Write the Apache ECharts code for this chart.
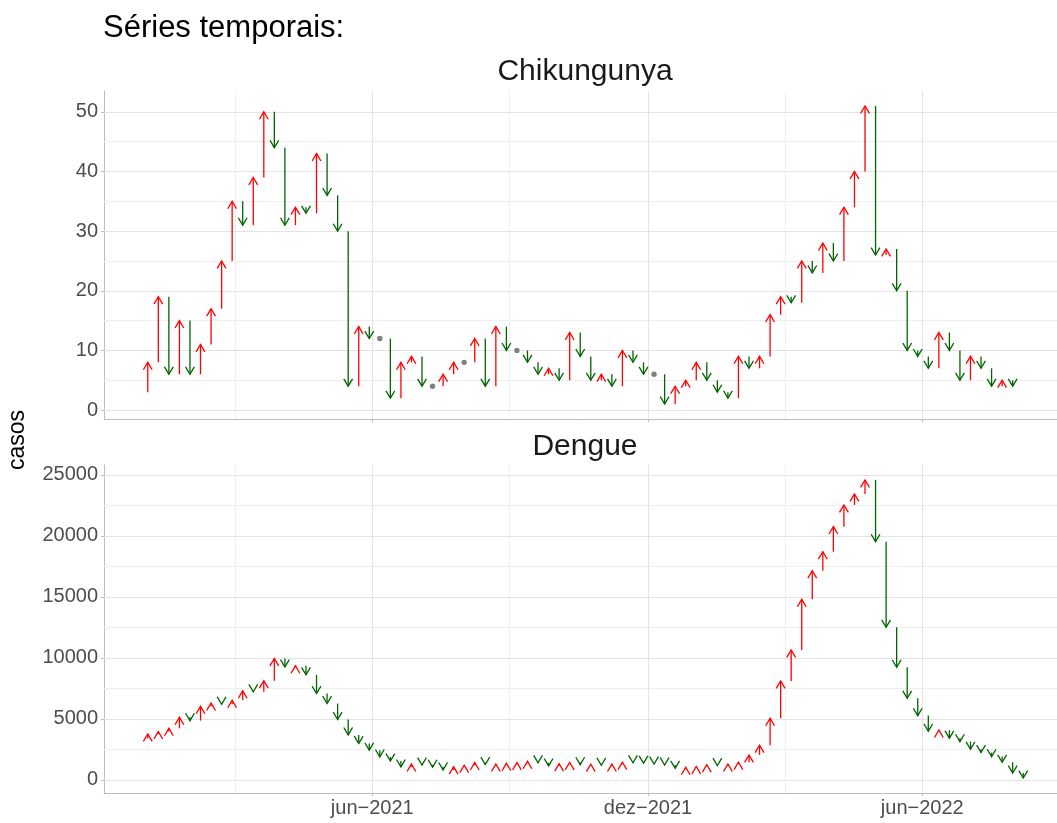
<!DOCTYPE html>
<html>
<head>
<meta charset="utf-8">
<style>
  body,
  html {
    overflow: hidden;
    width: 100%;
    height: 100%;
    margin: 0;
    padding: 0;
    background: #fff;
  }
  .chart-wrapper {
    position: relative;
    width: 1057px;
    height: 823px;
  }
</style>
</head>
<body>
<div id="chart-wrapper" class="chart-wrapper"></div>

<script src="https://cdn.jsdelivr.net/npm/echarts@6.0.0/dist/echarts.min.js"></script>

<script>
  // weekly series, first epi week starts 2021-01-03
  const firstWeek = "2021-01-03";

  // value of the week before the first one (start of the first arrow)
  const chikPrev = 3;
  const chikCases = [
    8, 19, 6, 15, 6, 11, 17, 25, 35, 31,
    39, 50, 44, 31, 34, 33, 43, 36, 30, 4,
    14, 12, 12, 2, 8, 9, 4, 4, 6, 8,
    8, 12, 4, 14, 10, 10, 8, 6, 7, 5,
    13, 9, 5, 6, 4, 10, 8, 6, 6, 1,
    4, 5, 8, 5, 3, 2, 9, 7, 9, 16,
    19, 18, 25, 23, 28, 25, 34, 40, 51, 26,
    27, 20, 10, 9, 7, 13, 10, 5, 9, 7,
    4, 5, 4,
  ];

  const denguePrev = 3400;
  const dengueCases = [
    3770, 3960, 4230, 5130, 4860, 6030, 6300, 6200, 6520, 7300,
    7230, 8130, 9960, 9250, 9350, 8620, 7080, 6260, 4950, 3690,
    2980, 2440, 1890, 1550, 1070, 1300, 1220, 1050, 820, 1080,
    1200, 1420, 1260, 1300, 1360, 1420, 1520, 1400, 1150, 1330,
    1430, 1250, 1290, 1200, 1300, 1450, 1400, 1370, 1300, 1220,
    950, 1030, 1100, 1250, 1180, 1300, 1450, 2050, 2840, 5050,
    8110, 10650, 14800, 17150, 18710, 20760, 22540, 23440, 24590, 19530,
    12510, 9230, 6690, 5270, 4000, 4080, 3420, 3140, 2510, 2240,
    1910, 1450, 560, 150,
  ];

  const xTickDates = ["2021-06-01", "2021-12-01", "2022-06-01"];
  const xTickLabels = ["jun−2021", "dez−2021", "jun−2022"];
  const xMinorDates = ["2021-03-02", "2021-08-31", "2022-03-02"];

  const chikTicks = [0, 10, 20, 30, 40, 50];
  const chikMinor = [5, 15, 25, 35, 45];
  const dengueTicks = [0, 5000, 10000, 15000, 20000, 25000];
  const dengueMinor = [2500, 7500, 12500, 17500, 22500];

  const FONT = "Liberation Sans";
  const DAY = 24 * 3600 * 1000;
  const toTime = (s) => new Date(s + "T00:00:00Z").getTime();

  const t0 = toTime(firstWeek);
  const weekTimes = dengueCases.map((_, i) => t0 + i * 7 * DAY);

  // [date, from, to]
  const buildSegments = (prev, values) =>
    values.map((v, i) => [weekTimes[i], i === 0 ? prev : values[i - 1], v]);

  const chikSegs = buildSegments(chikPrev, chikCases);
  const dengueSegs = buildSegments(denguePrev, dengueCases);

  // ggplot-like 5% expansion
  const expand = (lo, hi) => {
    const d = (hi - lo) * 0.05;
    return [lo - d, hi + d];
  };
  const xRange = expand(weekTimes[0], weekTimes[weekTimes.length - 1]);
  const chikRange = expand(
    Math.min(chikPrev, ...chikCases),
    Math.max(chikPrev, ...chikCases)
  );
  const dengueRange = expand(
    Math.min(denguePrev, ...dengueCases),
    Math.max(denguePrev, ...dengueCases)
  );

  const tickTimes = xTickDates.map(toTime);
  const minorTimes = xMinorDates.map(toTime);

  const renderArrow = (params, api) => {
    const x = api.value(0);
    const from = api.value(1);
    const to = api.value(2);
    const p0 = api.coord([x, from]);
    const p1 = api.coord([x, to]);
    if (from === to) {
      return {
        type: "circle",
        shape: { cx: p1[0], cy: p1[1], r: 2.7 },
        style: { fill: "#808080" },
      };
    }
    const up = to > from;
    const color = up ? "#FF0000" : "#006400";
    const hy = p1[1] + (up ? 7.4 : -7.4);
    return {
      type: "group",
      children: [
        {
          type: "line",
          shape: { x1: p0[0], y1: p0[1], x2: p1[0], y2: p1[1] },
          style: { stroke: color, lineWidth: 1.3 },
        },
        {
          type: "polyline",
          shape: {
            points: [
              [p1[0] - 4.4, hy],
              [p1[0], p1[1]],
              [p1[0] + 4.4, hy],
            ],
          },
          style: { stroke: color, fill: null, lineWidth: 1.3 },
        },
      ],
    };
  };

  const gridLines = (xMajor, xMinor, yMajor, yMinor) => {
    const line = (key, v, color) => ({
      [key]: v,
      lineStyle: { color: color, width: 1, type: "solid" },
    });
    return [
      ...yMinor.map((v) => line("yAxis", v, "#EEEEEE")),
      ...xMinor.map((v) => line("xAxis", v, "#EEEEEE")),
      ...yMajor.map((v) => line("yAxis", v, "#E3E3E3")),
      ...xMajor.map((v) => line("xAxis", v, "#E3E3E3")),
    ];
  };

  const xAxisBase = (gridIndex, showLabels) => ({
    type: "value",
    gridIndex: gridIndex,
    min: xRange[0],
    max: xRange[1],
    splitLine: { show: false },
    axisLine: { show: true, onZero: false, lineStyle: { color: "#BDBDBD", width: 1 } },
    axisTick: {
      show: true,
      length: 3,
      customValues: tickTimes,
      lineStyle: { color: "#BDBDBD" },
    },
    axisLabel: {
      show: showLabels,
      customValues: tickTimes,
      margin: 5,
      color: "#4D4D4D",
      fontSize: 20,
      fontFamily: FONT,
      formatter: (v) => {
        const i = tickTimes.indexOf(v);
        return i >= 0 ? xTickLabels[i] : "";
      },
    },
  });

  const yAxisBase = (gridIndex, range, ticks) => ({
    type: "value",
    gridIndex: gridIndex,
    min: range[0],
    max: range[1],
    splitLine: { show: false },
    axisLine: { show: true, onZero: false, lineStyle: { color: "#BDBDBD", width: 1 } },
    axisTick: {
      show: true,
      length: 3,
      customValues: ticks,
      lineStyle: { color: "#BDBDBD" },
    },
    axisLabel: {
      customValues: ticks,
      margin: 6,
      color: "#4D4D4D",
      fontSize: 20,
      fontFamily: FONT,
      formatter: (v) => String(v),
    },
  });

  const chartDom = document.getElementById("chart-wrapper");
  const chart = echarts.init(chartDom, null, { renderer: "canvas" });

  const option = {
    animation: false,
    backgroundColor: "#fff",
    textStyle: { fontFamily: FONT },
    grid: [
      { left: 104, top: 91, width: 963, height: 328, outerBoundsMode: "none" },
      { left: 104, top: 465, width: 963, height: 328, outerBoundsMode: "none" },
    ],
    xAxis: [xAxisBase(0, false), xAxisBase(1, true)],
    yAxis: [
      yAxisBase(0, chikRange, chikTicks),
      yAxisBase(1, dengueRange, dengueTicks),
    ],
    graphic: [
      {
        type: "text",
        x: 103,
        y: 28,
        style: {
          text: "Séries temporais:",
          fontSize: 31,
          fontFamily: FONT,
          fill: "#000",
          align: "left",
          verticalAlign: "middle",
        },
      },
      {
        type: "text",
        x: 585,
        y: 72,
        style: {
          text: "Chikungunya",
          fontSize: 30,
          fontFamily: FONT,
          fill: "#1A1A1A",
          align: "center",
          verticalAlign: "middle",
        },
      },
      {
        type: "text",
        x: 585,
        y: 447,
        style: {
          text: "Dengue",
          fontSize: 30,
          fontFamily: FONT,
          fill: "#1A1A1A",
          align: "center",
          verticalAlign: "middle",
        },
      },
      {
        type: "text",
        x: 18,
        y: 440,
        rotation: Math.PI / 2,
        style: {
          text: "casos",
          fontSize: 23,
          fontFamily: FONT,
          fill: "#000",
          align: "center",
          verticalAlign: "middle",
        },
      },
    ],
    series: [
      {
        type: "line",
        xAxisIndex: 0,
        yAxisIndex: 0,
        data: [],
        z: 0,
        silent: true,
        markLine: {
          silent: true,
          symbol: ["none", "none"],
          label: { show: false },
          animation: false,
          data: gridLines(tickTimes, minorTimes, chikTicks, chikMinor),
        },
      },
      {
        type: "line",
        xAxisIndex: 1,
        yAxisIndex: 1,
        data: [],
        z: 0,
        silent: true,
        markLine: {
          silent: true,
          symbol: ["none", "none"],
          label: { show: false },
          animation: false,
          data: gridLines(tickTimes, minorTimes, dengueTicks, dengueMinor),
        },
      },
      {
        type: "custom",
        name: "Chikungunya",
        xAxisIndex: 0,
        yAxisIndex: 0,
        z: 5,
        clip: false,
        renderItem: renderArrow,
        encode: { x: 0, y: [1, 2] },
        data: chikSegs,
      },
      {
        type: "custom",
        name: "Dengue",
        xAxisIndex: 1,
        yAxisIndex: 1,
        z: 5,
        clip: false,
        renderItem: renderArrow,
        encode: { x: 0, y: [1, 2] },
        data: dengueSegs,
      },
    ],
  };

  chart.setOption(option);
</script>
</body>
</html>
